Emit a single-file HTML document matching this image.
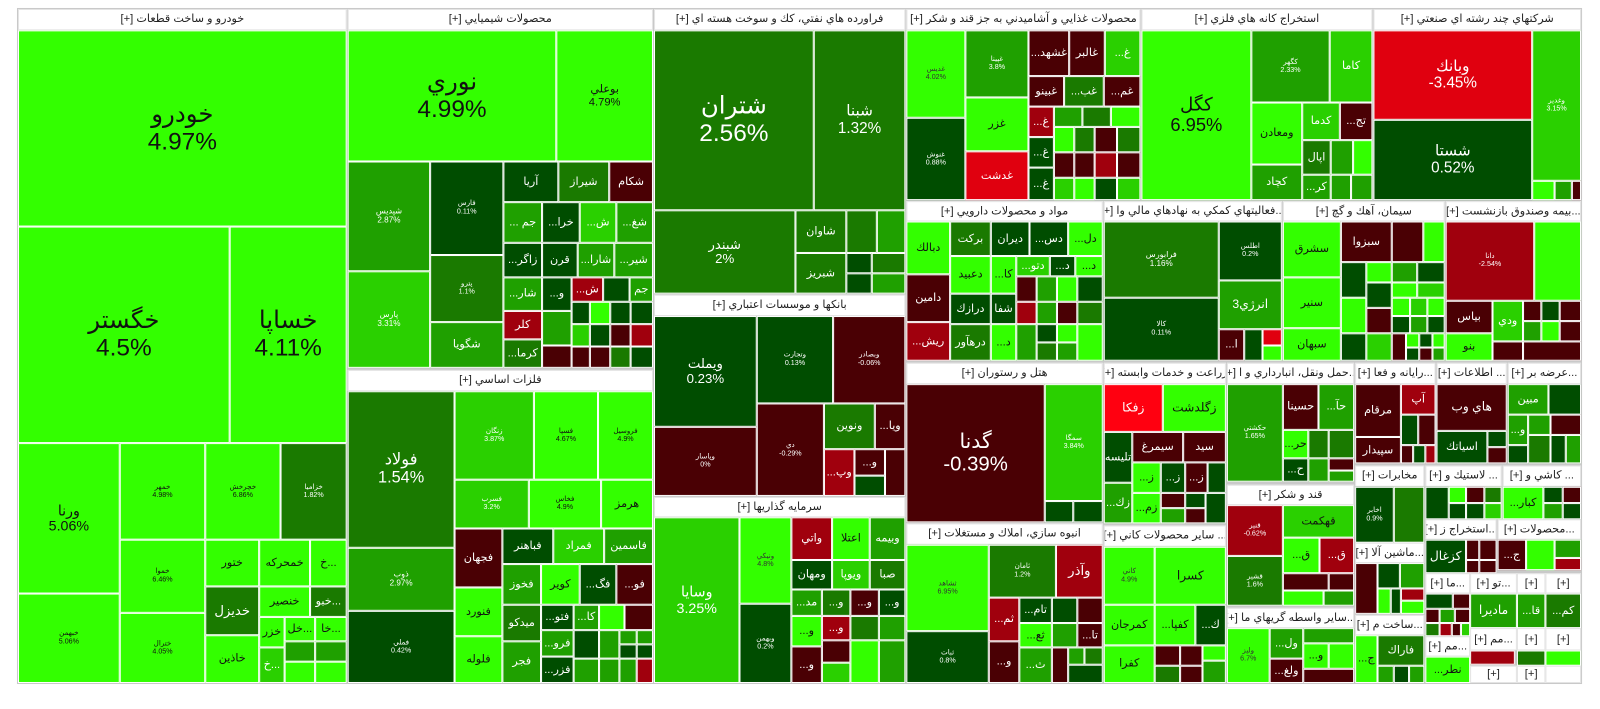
<!DOCTYPE html>
<html><head><meta charset="utf-8"><style>
body{margin:0;width:1600px;height:698px;background:#fff;position:relative;overflow:hidden;font-family:"Liberation Sans","DejaVu Sans",sans-serif}
#w{position:absolute;left:0;top:0;width:1600px;height:698px;transform-origin:15px 9px;transform:translate(3px,0) scale(1.0176,1.0166)}
#bg{position:absolute;left:14px;top:8px;width:1538px;height:665px;background:#c9c9c9}
.t,.h{position:absolute;box-sizing:border-box;border:1px solid #fff;display:flex;flex-direction:column;align-items:center;justify-content:center;overflow:hidden;text-align:center;line-height:1.1;white-space:nowrap;color:#fff;font-size:11px}
.h{background:#fff;color:#222;font-size:11px;border:1px solid #e4e4e4;direction:rtl}
.a{background:#33ff00;color:#111}.b{background:#2ad000}.c{background:#1fa000}.d{background:#1a7a00}.e{background:#004d00}
.r{background:#4a0004}.s{background:#a0000d}.u{background:#e0000f}.v{background:#ff0010}
.x{font-size:7px}
</style></head><body><div id="w">
<div id="bg"></div>
<!-- خودرو -->
<div class="h" style="left:15px;top:9px;width:323px;height:21px">خودرو و ساخت قطعات [+]</div>
<div class="t a" style="left:15px;top:30px;width:323px;height:193px;font-size:24px">خودرو<br>4.97%</div>
<div class="t a" style="left:15px;top:223px;width:208px;height:213px;font-size:24px">خگستر<br>4.5%</div>
<div class="t a" style="left:223px;top:223px;width:115px;height:213px;font-size:24px">خساپا<br>4.11%</div>
<div class="t a" style="left:15px;top:436px;width:100px;height:148px;font-size:14px">ورنا<br>5.06%</div>
<div class="t a x" style="left:15px;top:584px;width:100px;height:88px">خبهمن<br>5.06%</div>
<div class="t a x" style="left:115px;top:436px;width:84px;height:95px">خمهر<br>4.98%</div>
<div class="t a x" style="left:115px;top:531px;width:84px;height:72px">خموا<br>6.46%</div>
<div class="t a x" style="left:115px;top:603px;width:84px;height:69px">خترال<br>4.05%</div>
<div class="t a x" style="left:199px;top:436px;width:74px;height:95px">خچرخش<br>6.86%</div>
<div class="t d x" style="left:273px;top:436px;width:65px;height:95px">خزامیا<br>1.82%</div>
<div class="t a" style="left:199px;top:531px;width:53px;height:46px">ختور</div>
<div class="t d" style="left:199px;top:577px;width:53px;height:48px;font-size:13px">خديزل</div>
<div class="t a" style="left:199px;top:625px;width:53px;height:47px">خاذين</div>
<div class="t a" style="left:252px;top:531px;width:50px;height:46px">خمحرکه</div>
<div class="t a" style="left:252px;top:577px;width:50px;height:30px">خنصير</div>
<div class="t a" style="left:302px;top:531px;width:36px;height:46px">خ...</div>
<div class="t d" style="left:302px;top:577px;width:36px;height:30px">خبو...</div>
<div class="t a" style="left:252px;top:607px;width:25px;height:30px">خزر</div>
<div class="t a" style="left:277px;top:607px;width:30px;height:24px">خل...</div>
<div class="t a" style="left:307px;top:607px;width:31px;height:24px">خا...</div>
<div class="t b" style="left:252px;top:637px;width:25px;height:35px">خ...</div>
<div class="t c" style="left:277px;top:631px;width:30px;height:20px"></div>
<div class="t c" style="left:307px;top:631px;width:31px;height:20px"></div>
<div class="t a" style="left:277px;top:651px;width:30px;height:21px"></div>
<div class="t a" style="left:307px;top:651px;width:31px;height:21px"></div>
<!-- شیمیایی -->
<div class="h" style="left:339px;top:9px;width:300px;height:21px">محصولات شيميايي [+]</div>
<div class="t a" style="left:339px;top:30px;width:205px;height:129px;font-size:24px">نوري<br>4.99%</div>
<div class="t a" style="left:544px;top:30px;width:95px;height:129px;font-size:11px">بوعلي<br>4.79%</div>
<div class="t c" style="left:339px;top:159px;width:81px;height:108px;font-size:8px">شپديس<br>2.87%</div>
<div class="t b" style="left:339px;top:267px;width:81px;height:95px;font-size:8px">پارس<br>3.31%</div>
<div class="t e x" style="left:420px;top:159px;width:72px;height:92px">فارس<br>0.11%</div>
<div class="t d x" style="left:420px;top:251px;width:72px;height:66px">پترو<br>1.1%</div>
<div class="t c" style="left:420px;top:317px;width:72px;height:45px">شگويا</div>
<div class="t e" style="left:492px;top:159px;width:54px;height:40px">آريا</div>
<div class="t d" style="left:546px;top:159px;width:50px;height:40px">شيراز</div>
<div class="t r" style="left:596px;top:159px;width:43px;height:40px">شکام</div>
<div class="t c" style="left:492px;top:199px;width:38px;height:40px">... جم</div>
<div class="t e" style="left:530px;top:199px;width:37px;height:40px">...خرا</div>
<div class="t b" style="left:567px;top:199px;width:36px;height:40px">...ش</div>
<div class="t c" style="left:603px;top:199px;width:36px;height:40px">...شغ</div>
<div class="t e" style="left:492px;top:239px;width:38px;height:34px">...زاگر</div>
<div class="t e" style="left:530px;top:239px;width:35px;height:34px">قرن</div>
<div class="t c" style="left:565px;top:239px;width:36px;height:34px">...شارا</div>
<div class="t c" style="left:601px;top:239px;width:38px;height:34px">...شير</div>
<div class="t c" style="left:492px;top:273px;width:38px;height:33px">...شار</div>
<div class="t e" style="left:530px;top:273px;width:29px;height:33px">...و</div>
<div class="t s" style="left:559px;top:273px;width:31px;height:24px">...ش</div>
<div class="t e" style="left:590px;top:273px;width:26px;height:24px"></div>
<div class="t c" style="left:616px;top:273px;width:23px;height:24px">جم</div>
<div class="t s" style="left:492px;top:306px;width:38px;height:28px">کلر</div>
<div class="t d" style="left:492px;top:334px;width:38px;height:28px">...کرما</div>
<div class="t c" style="left:530px;top:306px;width:29px;height:34px"></div>
<div class="t r" style="left:530px;top:340px;width:29px;height:22px"></div>
<div class="t e" style="left:559px;top:297px;width:18px;height:22px"></div>
<div class="t a" style="left:577px;top:297px;width:20px;height:22px"></div>
<div class="t e" style="left:597px;top:297px;width:20px;height:22px"></div>
<div class="t e" style="left:617px;top:297px;width:22px;height:22px"></div>
<div class="t b" style="left:559px;top:319px;width:18px;height:22px"></div>
<div class="t e" style="left:577px;top:319px;width:20px;height:22px"></div>
<div class="t r" style="left:597px;top:319px;width:20px;height:22px"></div>
<div class="t s" style="left:617px;top:319px;width:22px;height:22px"></div>
<div class="t r" style="left:559px;top:341px;width:18px;height:21px"></div>
<div class="t r" style="left:577px;top:341px;width:20px;height:21px"></div>
<div class="t d" style="left:597px;top:341px;width:20px;height:21px"></div>
<div class="t e" style="left:617px;top:341px;width:22px;height:21px"></div>
<!-- فلزات -->
<div class="h" style="left:339px;top:364px;width:300px;height:21px">فلزات اساسي [+]</div>
<div class="t d" style="left:339px;top:385px;width:105px;height:154px;font-size:16px">فولاد<br>1.54%</div>
<div class="t c x" style="left:339px;top:539px;width:105px;height:62px;font-size:8px">ذوب<br>2.97%</div>
<div class="t e x" style="left:339px;top:601px;width:105px;height:71px">فملي<br>0.42%</div>
<div class="t b x" style="left:444px;top:385px;width:78px;height:87px">زنگان<br>3.87%</div>
<div class="t a x" style="left:522px;top:385px;width:63px;height:87px">فسپا<br>4.67%</div>
<div class="t a x" style="left:585px;top:385px;width:54px;height:87px">فروسيل<br>4.9%</div>
<div class="t b x" style="left:444px;top:472px;width:73px;height:48px">فسرب<br>3.2%</div>
<div class="t a x" style="left:517px;top:472px;width:71px;height:48px">فخاس<br>4.9%</div>
<div class="t a" style="left:588px;top:472px;width:51px;height:48px">هرمز</div>
<div class="t r" style="left:444px;top:520px;width:47px;height:58px">فجهان</div>
<div class="t e" style="left:491px;top:520px;width:50px;height:35px">فباهنر</div>
<div class="t b" style="left:541px;top:520px;width:50px;height:35px">فمراد</div>
<div class="t c" style="left:591px;top:520px;width:48px;height:35px">فاسمين</div>
<div class="t a" style="left:444px;top:578px;width:47px;height:48px">فنورد</div>
<div class="t a" style="left:444px;top:626px;width:47px;height:46px">فلوله</div>
<div class="t c" style="left:491px;top:555px;width:38px;height:40px">فخوز</div>
<div class="t d" style="left:491px;top:595px;width:38px;height:36px">ميدکو</div>
<div class="t c" style="left:491px;top:631px;width:38px;height:41px">فجر</div>
<div class="t a" style="left:529px;top:555px;width:38px;height:40px">کوير</div>
<div class="t e" style="left:567px;top:555px;width:36px;height:40px">...فگ</div>
<div class="t r" style="left:603px;top:555px;width:36px;height:40px">...فو</div>
<div class="t e" style="left:529px;top:595px;width:32px;height:25px">...فتو</div>
<div class="t c" style="left:561px;top:595px;width:25px;height:25px">...کا</div>
<div class="t a" style="left:586px;top:595px;width:25px;height:25px"></div>
<div class="t r" style="left:611px;top:595px;width:28px;height:25px"></div>
<div class="t c" style="left:529px;top:620px;width:32px;height:26px">...فرو</div>
<div class="t e" style="left:529px;top:646px;width:32px;height:26px">...فزر</div>
<div class="t e" style="left:561px;top:620px;width:25px;height:28px"></div>
<div class="t c" style="left:586px;top:620px;width:20px;height:28px"></div>
<div class="t c" style="left:606px;top:620px;width:17px;height:14px"></div>
<div class="t c" style="left:623px;top:620px;width:16px;height:14px"></div>
<div class="t e" style="left:606px;top:634px;width:17px;height:14px"></div>
<div class="t e" style="left:623px;top:634px;width:16px;height:14px"></div>
<div class="t c" style="left:561px;top:648px;width:25px;height:24px"></div>
<div class="t c" style="left:586px;top:648px;width:20px;height:24px"></div>
<div class="t c" style="left:606px;top:648px;width:17px;height:24px"></div>
<div class="t s" style="left:623px;top:648px;width:16px;height:24px"></div>
<!-- فراورده -->
<div class="h" style="left:640px;top:9px;width:247px;height:21px">فراورده هاي نفتي، كك و سوخت هسته اي [+]</div>
<div class="t d" style="left:640px;top:30px;width:157px;height:177px;font-size:24px">شتران<br>2.56%</div>
<div class="t d" style="left:797px;top:30px;width:90px;height:177px;font-size:15px">شبنا<br>1.32%</div>
<div class="t d" style="left:640px;top:207px;width:139px;height:82px;font-size:13px">شبندر<br>2%</div>
<div class="t d" style="left:779px;top:207px;width:50px;height:42px">شاوان</div>
<div class="t d" style="left:779px;top:249px;width:50px;height:40px">شبريز</div>
<div class="t d" style="left:829px;top:207px;width:30px;height:42px"></div>
<div class="t c" style="left:859px;top:207px;width:28px;height:42px"></div>
<div class="t e" style="left:829px;top:249px;width:25px;height:20px"></div>
<div class="t d" style="left:854px;top:249px;width:33px;height:20px"></div>
<div class="t e" style="left:829px;top:269px;width:25px;height:20px"></div>
<div class="t c" style="left:854px;top:269px;width:33px;height:20px"></div>
<!-- بانکها -->
<div class="h" style="left:640px;top:290px;width:247px;height:21px">بانكها و موسسات اعتباري [+]</div>
<div class="t e" style="left:640px;top:311px;width:101px;height:109px;font-size:13px">ويملت<br>0.23%</div>
<div class="t r x" style="left:640px;top:420px;width:101px;height:68px">وپاسار<br>0%</div>
<div class="t e x" style="left:741px;top:311px;width:75px;height:86px">وتجارت<br>0.13%</div>
<div class="t r x" style="left:816px;top:311px;width:71px;height:86px">وبصادر<br>-0.06%</div>
<div class="t r x" style="left:741px;top:397px;width:66px;height:91px">دي<br>-0.29%</div>
<div class="t d" style="left:807px;top:397px;width:50px;height:45px">ونوين</div>
<div class="t r" style="left:857px;top:397px;width:30px;height:45px">...ويا</div>
<div class="t s" style="left:807px;top:442px;width:30px;height:46px">...وپ</div>
<div class="t r" style="left:837px;top:442px;width:30px;height:26px">...و</div>
<div class="t r" style="left:867px;top:442px;width:20px;height:46px"></div>
<div class="t e" style="left:837px;top:468px;width:30px;height:20px"></div>
<!-- سرمایه -->
<div class="h" style="left:640px;top:489px;width:247px;height:20px">سرمايه گذاريها [+]</div>
<div class="t b" style="left:640px;top:509px;width:84px;height:163px;font-size:14px">وسايا<br>3.25%</div>
<div class="t a x" style="left:724px;top:509px;width:51px;height:85px;color:#333">ونيكي<br>4.8%</div>
<div class="t e x" style="left:724px;top:594px;width:51px;height:78px">وبهمن<br>0.2%</div>
<div class="t s" style="left:775px;top:509px;width:40px;height:42px">واتي</div>
<div class="t a" style="left:815px;top:509px;width:37px;height:42px">اعتلا</div>
<div class="t c" style="left:852px;top:509px;width:35px;height:42px">وبيمه</div>
<div class="t e" style="left:775px;top:551px;width:40px;height:29px">ومهان</div>
<div class="t b" style="left:815px;top:551px;width:37px;height:29px">ويوپا</div>
<div class="t d" style="left:852px;top:551px;width:35px;height:29px">صبا</div>
<div class="t c" style="left:775px;top:580px;width:30px;height:26px">...مد</div>
<div class="t d" style="left:805px;top:580px;width:28px;height:26px">...و</div>
<div class="t r" style="left:833px;top:580px;width:28px;height:26px">...و</div>
<div class="t e" style="left:861px;top:580px;width:26px;height:26px">...و</div>
<div class="t a" style="left:775px;top:606px;width:30px;height:30px">...و</div>
<div class="t s" style="left:805px;top:606px;width:28px;height:24px">...و</div>
<div class="t d" style="left:833px;top:606px;width:28px;height:24px"></div>
<div class="t c" style="left:861px;top:606px;width:26px;height:24px"></div>
<div class="t r" style="left:775px;top:636px;width:30px;height:36px">...و</div>
<div class="t r" style="left:805px;top:630px;width:28px;height:22px"></div>
<div class="t b" style="left:805px;top:652px;width:28px;height:20px"></div>
<div class="t a" style="left:833px;top:630px;width:28px;height:42px"></div>
<div class="t c" style="left:861px;top:630px;width:26px;height:42px"></div>
<!-- غذایی -->
<div class="h" style="left:888px;top:9px;width:230px;height:21px">محصولات غذايي و آشاميدني به جز قند و شكر [+]</div>
<div class="t a x" style="left:888px;top:30px;width:58px;height:86px;color:#333">غدیس<br>4.02%</div>
<div class="t e x" style="left:888px;top:116px;width:58px;height:81px">غنوش<br>0.88%</div>
<div class="t c x" style="left:946px;top:30px;width:62px;height:66px">غپینا<br>3.8%</div>
<div class="t a" style="left:946px;top:96px;width:62px;height:53px">غزر</div>
<div class="t u" style="left:946px;top:149px;width:62px;height:48px">غدشت</div>
<div class="t r" style="left:1008px;top:30px;width:40px;height:45px">...غشهد</div>
<div class="t r" style="left:1048px;top:30px;width:35px;height:45px">غالبر</div>
<div class="t b" style="left:1083px;top:30px;width:35px;height:45px">...غ</div>
<div class="t r" style="left:1008px;top:75px;width:35px;height:30px">غبينو</div>
<div class="t d" style="left:1043px;top:75px;width:39px;height:30px">...غب</div>
<div class="t r" style="left:1082px;top:75px;width:36px;height:30px">...غم</div>
<div class="t s" style="left:1008px;top:105px;width:25px;height:30px">...غ</div>
<div class="t c" style="left:1033px;top:105px;width:28px;height:20px"></div>
<div class="t d" style="left:1061px;top:105px;width:28px;height:20px"></div>
<div class="t a" style="left:1089px;top:105px;width:29px;height:20px"></div>
<div class="t e" style="left:1008px;top:135px;width:25px;height:30px">...غ</div>
<div class="t e" style="left:1008px;top:165px;width:25px;height:32px">...غ</div>
<div class="t a" style="left:1033px;top:125px;width:20px;height:25px"></div>
<div class="t d" style="left:1053px;top:125px;width:20px;height:25px"></div>
<div class="t r" style="left:1073px;top:125px;width:22px;height:25px"></div>
<div class="t d" style="left:1095px;top:125px;width:23px;height:25px"></div>
<div class="t r" style="left:1033px;top:150px;width:20px;height:25px"></div>
<div class="t r" style="left:1053px;top:150px;width:20px;height:25px"></div>
<div class="t s" style="left:1073px;top:150px;width:22px;height:25px"></div>
<div class="t r" style="left:1095px;top:150px;width:23px;height:25px"></div>
<div class="t b" style="left:1033px;top:175px;width:20px;height:22px"></div>
<div class="t a" style="left:1053px;top:175px;width:20px;height:22px"></div>
<div class="t e" style="left:1073px;top:175px;width:22px;height:22px"></div>
<div class="t b" style="left:1095px;top:175px;width:23px;height:22px"></div>
<!-- استخراج کانه -->
<div class="h" style="left:1119px;top:9px;width:227px;height:21px">استخراج كانه هاي فلزي [+]</div>
<div class="t a" style="left:1119px;top:30px;width:108px;height:167px;font-size:18px">كگل<br>6.95%</div>
<div class="t c x" style="left:1227px;top:30px;width:77px;height:71px">كگهر<br>2.33%</div>
<div class="t b" style="left:1304px;top:30px;width:42px;height:71px">كاما</div>
<div class="t a" style="left:1227px;top:101px;width:50px;height:61px">ومعادن</div>
<div class="t b" style="left:1277px;top:101px;width:37px;height:37px">كدما</div>
<div class="t r" style="left:1314px;top:101px;width:32px;height:37px">...تج</div>
<div class="t c" style="left:1227px;top:162px;width:50px;height:35px">كچاد</div>
<div class="t d" style="left:1277px;top:138px;width:28px;height:34px">اپال</div>
<div class="t c" style="left:1305px;top:138px;width:22px;height:34px"></div>
<div class="t a" style="left:1327px;top:138px;width:19px;height:34px"></div>
<div class="t c" style="left:1277px;top:172px;width:28px;height:25px">...كر</div>
<div class="t c" style="left:1305px;top:172px;width:20px;height:25px"></div>
<div class="t c" style="left:1325px;top:172px;width:21px;height:25px"></div>
<!-- چند رشته -->
<div class="h" style="left:1347px;top:9px;width:204px;height:21px">شركتهاي چند رشته اي صنعتي [+]</div>
<div class="t u" style="left:1347px;top:30px;width:156px;height:88px;font-size:15px">وبانك<br>-3.45%</div>
<div class="t e" style="left:1347px;top:118px;width:156px;height:79px;font-size:15px">شستا<br>0.52%</div>
<div class="t b x" style="left:1503px;top:30px;width:48px;height:148px">وغدير<br>3.15%</div>
<div class="t a" style="left:1503px;top:178px;width:22px;height:19px"></div>
<div class="t c" style="left:1525px;top:178px;width:17px;height:19px"></div>
<div class="t r" style="left:1542px;top:178px;width:9px;height:19px"></div>
<!-- دارویی -->
<div class="h" style="left:888px;top:198px;width:193px;height:20px">مواد و محصولات دارويي [+]</div>
<div class="t a" style="left:888px;top:218px;width:43px;height:52px">دبالك</div>
<div class="t r" style="left:888px;top:270px;width:43px;height:47px">دامين</div>
<div class="t s" style="left:888px;top:317px;width:43px;height:38px">...ريش</div>
<div class="t d" style="left:931px;top:218px;width:40px;height:34px">بركت</div>
<div class="t e" style="left:971px;top:218px;width:38px;height:34px">ديران</div>
<div class="t e" style="left:1009px;top:218px;width:38px;height:34px">...دس</div>
<div class="t a" style="left:1047px;top:218px;width:34px;height:34px">...دل</div>
<div class="t a" style="left:931px;top:252px;width:40px;height:37px">دعبيد</div>
<div class="t a" style="left:971px;top:252px;width:25px;height:37px">...كا</div>
<div class="t b" style="left:996px;top:252px;width:33px;height:20px">...دتو</div>
<div class="t e" style="left:1029px;top:252px;width:25px;height:20px">...د</div>
<div class="t a" style="left:1054px;top:252px;width:27px;height:20px">...د</div>
<div class="t e" style="left:931px;top:289px;width:40px;height:30px">درازك</div>
<div class="t e" style="left:971px;top:289px;width:25px;height:30px">شفا</div>
<div class="t r" style="left:996px;top:272px;width:20px;height:25px"></div>
<div class="t c" style="left:1016px;top:272px;width:20px;height:25px"></div>
<div class="t a" style="left:1036px;top:272px;width:20px;height:25px"></div>
<div class="t e" style="left:1056px;top:272px;width:25px;height:25px"></div>
<div class="t d" style="left:931px;top:319px;width:40px;height:36px">درهآور</div>
<div class="t a" style="left:971px;top:319px;width:25px;height:36px">...د</div>
<div class="t s" style="left:996px;top:297px;width:20px;height:22px"></div>
<div class="t c" style="left:1016px;top:297px;width:20px;height:22px"></div>
<div class="t r" style="left:1036px;top:297px;width:20px;height:22px"></div>
<div class="t d" style="left:1056px;top:297px;width:25px;height:22px"></div>
<div class="t c" style="left:996px;top:319px;width:20px;height:36px"></div>
<div class="t e" style="left:1016px;top:319px;width:20px;height:18px"></div>
<div class="t a" style="left:1036px;top:319px;width:20px;height:18px"></div>
<div class="t a" style="left:1056px;top:319px;width:25px;height:36px"></div>
<div class="t d" style="left:1016px;top:337px;width:20px;height:18px"></div>
<div class="t c" style="left:1036px;top:337px;width:20px;height:18px"></div>
<!-- فعالیتهای کمکی -->
<div class="h" style="left:1082px;top:198px;width:175px;height:20px">...فعاليتهاي كمكي به نهادهاي مالي وا [+]</div>
<div class="t d x" style="left:1082px;top:218px;width:113px;height:75px;font-size:8px">فرابورس<br>1.16%</div>
<div class="t e x" style="left:1082px;top:293px;width:113px;height:62px">كالا<br>0.11%</div>
<div class="t e x" style="left:1195px;top:218px;width:62px;height:58px">اطلس<br>0.2%</div>
<div class="t c" style="left:1195px;top:276px;width:62px;height:48px;font-size:12px">انرژي3</div>
<div class="t r" style="left:1195px;top:324px;width:25px;height:31px">...ا</div>
<div class="t e" style="left:1220px;top:324px;width:18px;height:31px"></div>
<div class="t u" style="left:1238px;top:324px;width:19px;height:16px"></div>
<div class="t a" style="left:1238px;top:340px;width:19px;height:15px"></div>
<!-- سیمان -->
<div class="h" style="left:1258px;top:198px;width:159px;height:20px">سيمان، آهك و گچ [+]</div>
<div class="t a" style="left:1258px;top:218px;width:57px;height:55px">سشرق</div>
<div class="t a" style="left:1258px;top:273px;width:57px;height:50px">سنير</div>
<div class="t a" style="left:1258px;top:323px;width:57px;height:32px">سبهان</div>
<div class="t r" style="left:1315px;top:218px;width:50px;height:40px">سبزوا</div>
<div class="t r" style="left:1365px;top:218px;width:31px;height:40px"></div>
<div class="t a" style="left:1396px;top:218px;width:21px;height:40px"></div>
<div class="t e" style="left:1315px;top:258px;width:25px;height:35px"></div>
<div class="t a" style="left:1340px;top:258px;width:25px;height:20px"></div>
<div class="t c" style="left:1365px;top:258px;width:25px;height:20px"></div>
<div class="t e" style="left:1390px;top:258px;width:27px;height:20px"></div>
<div class="t e" style="left:1340px;top:278px;width:25px;height:25px"></div>
<div class="t a" style="left:1365px;top:278px;width:25px;height:15px"></div>
<div class="t b" style="left:1390px;top:278px;width:27px;height:15px"></div>
<div class="t a" style="left:1315px;top:293px;width:25px;height:35px"></div>
<div class="t r" style="left:1340px;top:303px;width:25px;height:25px"></div>
<div class="t a" style="left:1365px;top:293px;width:18px;height:18px"></div>
<div class="t b" style="left:1383px;top:293px;width:17px;height:18px"></div>
<div class="t a" style="left:1400px;top:293px;width:17px;height:18px"></div>
<div class="t e" style="left:1365px;top:311px;width:18px;height:17px"></div>
<div class="t c" style="left:1383px;top:311px;width:17px;height:17px"></div>
<div class="t e" style="left:1400px;top:311px;width:17px;height:17px"></div>
<div class="t e" style="left:1315px;top:328px;width:25px;height:27px"></div>
<div class="t b" style="left:1340px;top:328px;width:25px;height:27px"></div>
<div class="t r" style="left:1365px;top:328px;width:14px;height:27px"></div>
<div class="t a" style="left:1379px;top:328px;width:13px;height:14px"></div>
<div class="t e" style="left:1392px;top:328px;width:13px;height:14px"></div>
<div class="t a" style="left:1405px;top:328px;width:12px;height:14px"></div>
<div class="t e" style="left:1379px;top:342px;width:13px;height:13px"></div>
<div class="t r" style="left:1392px;top:342px;width:13px;height:13px"></div>
<div class="t c" style="left:1405px;top:342px;width:12px;height:13px"></div>
<!-- بیمه -->
<div class="h" style="left:1418px;top:198px;width:133px;height:20px">...بيمه وصندوق بازنشست [+]</div>
<div class="t s x" style="left:1418px;top:218px;width:87px;height:78px">دانا<br>-2.54%</div>
<div class="t a x" style="left:1505px;top:218px;width:46px;height:78px"></div>
<div class="t r" style="left:1418px;top:296px;width:46px;height:32px">بياس</div>
<div class="t b" style="left:1464px;top:296px;width:30px;height:40px">ودي</div>
<div class="t r" style="left:1494px;top:296px;width:18px;height:20px"></div>
<div class="t e" style="left:1512px;top:296px;width:18px;height:20px"></div>
<div class="t r" style="left:1530px;top:296px;width:21px;height:20px"></div>
<div class="t a" style="left:1418px;top:328px;width:46px;height:27px">بنو</div>
<div class="t r" style="left:1464px;top:336px;width:30px;height:19px"></div>
<div class="t c" style="left:1494px;top:316px;width:18px;height:20px"></div>
<div class="t a" style="left:1512px;top:316px;width:18px;height:20px"></div>
<div class="t r" style="left:1530px;top:316px;width:21px;height:20px"></div>
<div class="t r" style="left:1494px;top:336px;width:57px;height:19px"></div>
<!-- هتل -->
<div class="h" style="left:888px;top:357px;width:193px;height:21px">هتل و رستوران [+]</div>
<div class="t r" style="left:888px;top:378px;width:136px;height:136px;font-size:20px">گدنا<br>-0.39%</div>
<div class="t b x" style="left:1024px;top:378px;width:57px;height:115px">سمگا<br>3.84%</div>
<div class="t e" style="left:1024px;top:493px;width:28px;height:21px"></div>
<div class="t e" style="left:1052px;top:493px;width:29px;height:21px"></div>
<!-- انبوه -->
<div class="h" style="left:888px;top:515px;width:193px;height:21px">انبوه سازي، املاك و مستغلات [+]</div>
<div class="t a x" style="left:888px;top:536px;width:81px;height:85px;color:#333">ثشاهد<br>6.95%</div>
<div class="t e x" style="left:888px;top:621px;width:81px;height:51px">ثبات<br>0.8%</div>
<div class="t d x" style="left:969px;top:536px;width:66px;height:52px">ثامان<br>1.2%</div>
<div class="t s" style="left:1035px;top:536px;width:46px;height:52px;font-size:13px">وآذر</div>
<div class="t s" style="left:969px;top:588px;width:30px;height:43px">...ثم</div>
<div class="t e" style="left:999px;top:588px;width:32px;height:25px">...تام</div>
<div class="t e" style="left:1031px;top:588px;width:25px;height:25px"></div>
<div class="t r" style="left:1056px;top:588px;width:25px;height:25px"></div>
<div class="t a" style="left:999px;top:613px;width:32px;height:24px">...ثع</div>
<div class="t c" style="left:1031px;top:613px;width:25px;height:24px"></div>
<div class="t r" style="left:1056px;top:613px;width:25px;height:24px">...تا</div>
<div class="t r" style="left:969px;top:631px;width:30px;height:41px">...و</div>
<div class="t c" style="left:999px;top:637px;width:32px;height:35px">...ث</div>
<div class="t r" style="left:1031px;top:637px;width:16px;height:35px"></div>
<div class="t c" style="left:1047px;top:637px;width:16px;height:17px"></div>
<div class="t d" style="left:1063px;top:637px;width:18px;height:17px"></div>
<div class="t e" style="left:1047px;top:654px;width:34px;height:18px"></div>
<!-- زراعت -->
<div class="h" style="left:1082px;top:357px;width:120px;height:21px">زراعت و خدمات وابسته [+]</div>
<div class="t v" style="left:1082px;top:378px;width:58px;height:47px;font-size:12px">زفكا</div>
<div class="t a" style="left:1140px;top:378px;width:62px;height:47px;font-size:12px">زگلدشت</div>
<div class="t e" style="left:1082px;top:425px;width:28px;height:50px">تليسه</div>
<div class="t c" style="left:1082px;top:475px;width:28px;height:40px">...زك</div>
<div class="t r" style="left:1110px;top:425px;width:50px;height:30px">سيمرغ</div>
<div class="t r" style="left:1160px;top:425px;width:42px;height:30px">سيد</div>
<div class="t a" style="left:1110px;top:455px;width:28px;height:30px">...ز</div>
<div class="t e" style="left:1138px;top:455px;width:24px;height:30px">...ز</div>
<div class="t r" style="left:1162px;top:455px;width:22px;height:30px">...ز</div>
<div class="t e" style="left:1184px;top:455px;width:18px;height:30px"></div>
<div class="t a" style="left:1110px;top:485px;width:28px;height:30px">...زم</div>
<div class="t r" style="left:1138px;top:485px;width:24px;height:15px"></div>
<div class="t e" style="left:1162px;top:485px;width:20px;height:15px"></div>
<div class="t c" style="left:1138px;top:500px;width:24px;height:15px"></div>
<div class="t r" style="left:1162px;top:500px;width:20px;height:15px"></div>
<div class="t e" style="left:1182px;top:485px;width:20px;height:30px"></div>
<!-- کانی -->
<div class="h" style="left:1082px;top:517px;width:120px;height:21px">... ساير محصولات كاني [+]</div>
<div class="t a x" style="left:1082px;top:538px;width:50px;height:57px;color:#333">كاني<br>4.9%</div>
<div class="t a" style="left:1132px;top:538px;width:70px;height:57px;font-size:12px;color:#111">كسرا</div>
<div class="t a" style="left:1082px;top:595px;width:50px;height:40px">كمرجان</div>
<div class="t a" style="left:1132px;top:595px;width:40px;height:40px">...كفپا</div>
<div class="t e" style="left:1172px;top:595px;width:30px;height:40px">...ك</div>
<div class="t a" style="left:1082px;top:635px;width:50px;height:37px">كفرا</div>
<div class="t r" style="left:1132px;top:635px;width:25px;height:20px"></div>
<div class="t r" style="left:1157px;top:635px;width:22px;height:20px"></div>
<div class="t a" style="left:1179px;top:635px;width:23px;height:15px"></div>
<div class="t d" style="left:1132px;top:655px;width:25px;height:17px"></div>
<div class="t r" style="left:1157px;top:655px;width:22px;height:17px"></div>
<div class="t c" style="left:1179px;top:650px;width:23px;height:22px"></div>
<!-- حمل -->
<div class="h" style="left:1203px;top:357px;width:125px;height:21px">...حمل ونقل، انبارداري و ا [+]</div>
<div class="t c x" style="left:1203px;top:378px;width:55px;height:96px">حكشتي<br>1.65%</div>
<div class="t r" style="left:1258px;top:378px;width:35px;height:45px">حسينا</div>
<div class="t c" style="left:1293px;top:378px;width:35px;height:45px">...حآ</div>
<div class="t a" style="left:1258px;top:423px;width:25px;height:28px">...حر</div>
<div class="t d" style="left:1283px;top:423px;width:20px;height:28px"></div>
<div class="t d" style="left:1303px;top:423px;width:25px;height:28px"></div>
<div class="t e" style="left:1258px;top:451px;width:25px;height:23px">...ح</div>
<div class="t c" style="left:1283px;top:451px;width:20px;height:23px"></div>
<div class="t r" style="left:1303px;top:451px;width:25px;height:12px"></div>
<div class="t c" style="left:1303px;top:463px;width:25px;height:11px"></div>
<!-- قند -->
<div class="h" style="left:1203px;top:477px;width:125px;height:20px">قند و شكر [+]</div>
<div class="t s x" style="left:1203px;top:497px;width:55px;height:50px">قنیر<br>-0.62%</div>
<div class="t d x" style="left:1203px;top:547px;width:55px;height:49px">قشیر<br>1.6%</div>
<div class="t b" style="left:1258px;top:497px;width:70px;height:32px;color:#111">قهكمت</div>
<div class="t a" style="left:1258px;top:529px;width:36px;height:35px">...ق</div>
<div class="t s" style="left:1294px;top:529px;width:34px;height:35px">...ق</div>
<div class="t r" style="left:1258px;top:564px;width:45px;height:17px"></div>
<div class="t r" style="left:1303px;top:564px;width:25px;height:17px"></div>
<div class="t a" style="left:1258px;top:581px;width:40px;height:15px"></div>
<div class="t c" style="left:1298px;top:581px;width:30px;height:15px"></div>
<!-- واسطه -->
<div class="h" style="left:1203px;top:598px;width:125px;height:20px">...ساير واسطه گريهاي ما [+]</div>
<div class="t a x" style="left:1203px;top:618px;width:42px;height:54px;color:#333">وليز<br>6.7%</div>
<div class="t c" style="left:1245px;top:618px;width:33px;height:30px">...ول</div>
<div class="t c" style="left:1278px;top:618px;width:50px;height:15px"></div>
<div class="t a" style="left:1278px;top:633px;width:25px;height:25px">...و</div>
<div class="t a" style="left:1303px;top:633px;width:25px;height:25px"></div>
<div class="t r" style="left:1245px;top:648px;width:33px;height:24px">...ولغ</div>
<div class="t r" style="left:1278px;top:658px;width:50px;height:14px"></div>
<!-- رایانه -->
<div class="h" style="left:1329px;top:357px;width:79px;height:21px">...رايانه و فعا [+]</div>
<div class="t r" style="left:1329px;top:378px;width:45px;height:52px">مرقام</div>
<div class="t s" style="left:1374px;top:378px;width:34px;height:30px">آپ</div>
<div class="t r" style="left:1329px;top:430px;width:45px;height:26px">سپيدار</div>
<div class="t e" style="left:1374px;top:408px;width:17px;height:30px"></div>
<div class="t r" style="left:1391px;top:408px;width:17px;height:30px"></div>
<div class="t r" style="left:1374px;top:438px;width:12px;height:18px"></div>
<div class="t e" style="left:1386px;top:438px;width:12px;height:18px"></div>
<div class="t s" style="left:1398px;top:438px;width:10px;height:18px"></div>
<!-- اطلاعات -->
<div class="h" style="left:1409px;top:357px;width:69px;height:21px">... اطلاعات [+]</div>
<div class="t r" style="left:1409px;top:378px;width:69px;height:46px;font-size:12px">هاي وب</div>
<div class="t e" style="left:1409px;top:424px;width:50px;height:32px">اسياتك</div>
<div class="t e" style="left:1459px;top:424px;width:19px;height:16px"></div>
<div class="t r" style="left:1459px;top:440px;width:19px;height:16px"></div>
<!-- عرضه برق -->
<div class="h" style="left:1479px;top:357px;width:72px;height:21px">...عرضه بر [+]</div>
<div class="t c" style="left:1479px;top:378px;width:40px;height:30px">مبين</div>
<div class="t e" style="left:1519px;top:378px;width:32px;height:30px"></div>
<div class="t c" style="left:1479px;top:408px;width:20px;height:30px">...و</div>
<div class="t c" style="left:1499px;top:408px;width:22px;height:20px"></div>
<div class="t r" style="left:1521px;top:408px;width:30px;height:20px"></div>
<div class="t d" style="left:1499px;top:428px;width:22px;height:28px"></div>
<div class="t e" style="left:1521px;top:428px;width:15px;height:28px"></div>
<div class="t c" style="left:1536px;top:428px;width:15px;height:28px"></div>
<div class="t e" style="left:1479px;top:438px;width:20px;height:18px"></div>
<!-- مخابرات -->
<div class="h" style="left:1329px;top:458px;width:68px;height:21px">مخابرات [+]</div>
<div class="t e x" style="left:1329px;top:479px;width:38px;height:55px">اخابر<br>0.9%</div>
<div class="t d" style="left:1367px;top:479px;width:30px;height:55px"></div>
<div class="h" style="left:1329px;top:534px;width:68px;height:20px">...ماشين آلا [+]</div>
<div class="t r" style="left:1329px;top:554px;width:22px;height:50px"></div>
<div class="t e" style="left:1351px;top:554px;width:22px;height:25px"></div>
<div class="t c" style="left:1373px;top:554px;width:24px;height:25px"></div>
<div class="t a" style="left:1351px;top:579px;width:13px;height:25px"></div>
<div class="t e" style="left:1364px;top:579px;width:10px;height:25px"></div>
<div class="t s" style="left:1374px;top:579px;width:23px;height:12px"></div>
<div class="t a" style="left:1374px;top:591px;width:23px;height:13px"></div>
<div class="h" style="left:1329px;top:605px;width:68px;height:20px">...ساخت م [+]</div>
<div class="t a" style="left:1329px;top:625px;width:22px;height:47px">...ج</div>
<div class="t d" style="left:1351px;top:625px;width:46px;height:30px">فاراك</div>
<div class="t c" style="left:1351px;top:655px;width:16px;height:17px"></div>
<div class="t e" style="left:1367px;top:655px;width:15px;height:17px"></div>
<div class="t c" style="left:1382px;top:655px;width:15px;height:17px"></div>
<!-- لاستیک -->
<div class="h" style="left:1398px;top:458px;width:75px;height:21px">... لاستيك و [+]</div>
<div class="t e" style="left:1398px;top:479px;width:23px;height:32px"></div>
<div class="t a" style="left:1421px;top:479px;width:17px;height:16px"></div>
<div class="t r" style="left:1438px;top:479px;width:18px;height:16px"></div>
<div class="t d" style="left:1456px;top:479px;width:17px;height:16px"></div>
<div class="t e" style="left:1421px;top:495px;width:17px;height:16px"></div>
<div class="t e" style="left:1438px;top:495px;width:18px;height:16px"></div>
<div class="t b" style="left:1456px;top:495px;width:17px;height:16px"></div>
<div class="h" style="left:1474px;top:458px;width:77px;height:21px">... كاشي و [+]</div>
<div class="t a" style="left:1474px;top:479px;width:40px;height:32px;color:#111">...كبار</div>
<div class="t e" style="left:1514px;top:479px;width:19px;height:16px"></div>
<div class="t r" style="left:1533px;top:479px;width:18px;height:16px"></div>
<div class="t c" style="left:1514px;top:495px;width:19px;height:16px"></div>
<div class="t e" style="left:1533px;top:495px;width:18px;height:16px"></div>
<div class="h" style="left:1398px;top:511px;width:70px;height:20px">...استخراج ز [+]</div>
<div class="t e" style="left:1398px;top:531px;width:40px;height:33px;font-size:12px">كزغال</div>
<div class="t r" style="left:1438px;top:531px;width:13px;height:20px"></div>
<div class="t r" style="left:1451px;top:531px;width:17px;height:20px"></div>
<div class="t r" style="left:1438px;top:551px;width:13px;height:13px"></div>
<div class="t r" style="left:1451px;top:551px;width:17px;height:13px"></div>
<div class="h" style="left:1469px;top:511px;width:82px;height:20px">...محصولات [+]</div>
<div class="t r" style="left:1469px;top:531px;width:28px;height:30px">...ج</div>
<div class="t a" style="left:1497px;top:531px;width:28px;height:30px"></div>
<div class="t c" style="left:1525px;top:531px;width:26px;height:18px"></div>
<div class="t s" style="left:1525px;top:549px;width:26px;height:12px"></div>
<div class="h" style="left:1398px;top:564px;width:44px;height:20px">...ما [+]</div>
<div class="t e" style="left:1398px;top:584px;width:27px;height:15px"></div>
<div class="t r" style="left:1425px;top:584px;width:17px;height:15px"></div>
<div class="t r" style="left:1398px;top:599px;width:14px;height:14px"></div>
<div class="t c" style="left:1412px;top:599px;width:15px;height:14px"></div>
<div class="t r" style="left:1427px;top:599px;width:15px;height:14px"></div>
<div class="t d" style="left:1398px;top:613px;width:14px;height:13px"></div>
<div class="t s" style="left:1412px;top:613px;width:12px;height:13px"></div>
<div class="t r" style="left:1424px;top:613px;width:9px;height:13px"></div>
<div class="t b" style="left:1433px;top:613px;width:9px;height:13px"></div>
<div class="h" style="left:1442px;top:564px;width:46px;height:20px">...تو [+]</div>
<div class="t c" style="left:1442px;top:584px;width:46px;height:34px;font-size:12px">ماديرا</div>
<div class="h" style="left:1488px;top:564px;width:28px;height:20px">[+]</div>
<div class="t c" style="left:1488px;top:584px;width:28px;height:34px">...قا</div>
<div class="h" style="left:1516px;top:564px;width:35px;height:20px">[+]</div>
<div class="t d" style="left:1516px;top:584px;width:35px;height:34px">...كم</div>
<div class="h" style="left:1442px;top:618px;width:46px;height:22px">...مم [+]</div>
<div class="t s" style="left:1442px;top:640px;width:44px;height:14px"></div>
<div class="h" style="left:1488px;top:618px;width:28px;height:22px">[+]</div>
<div class="t d" style="left:1488px;top:640px;width:28px;height:15px"></div>
<div class="h" style="left:1516px;top:618px;width:35px;height:22px">[+]</div>
<div class="t a" style="left:1516px;top:640px;width:35px;height:15px"></div>
<div class="h" style="left:1398px;top:626px;width:44px;height:20px">...مم [+]</div>
<div class="t a" style="left:1398px;top:646px;width:44px;height:26px;color:#111">...نطر</div>
<div class="h" style="left:1442px;top:655px;width:46px;height:17px">[+]</div>
<div class="h" style="left:1488px;top:655px;width:28px;height:17px">[+]</div>
<div class="h" style="left:1516px;top:655px;width:35px;height:17px"></div>
</div></body></html>
